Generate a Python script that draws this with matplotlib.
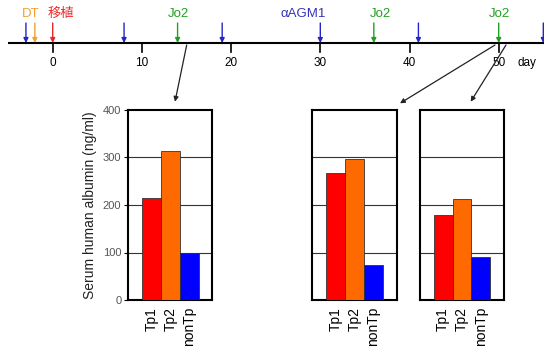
import matplotlib
matplotlib.use("Agg")
import matplotlib.pyplot as plt

plt.rcParams['font.family'] = ['Liberation Sans', 'Noto Sans CJK JP', 'DejaVu Sans']

# ---- data ----
groups = ["Tp1", "Tp2", "nonTp"]
panel1 = [214, 313, 100]
panel2 = [267, 296, 74]
panel3 = [180, 212, 91]
bar_colors = ["#FF0000", "#FF6A00", "#0000FF"]

yticks = [0, 100, 200, 300, 400]

timeline_ticks = [0, 10, 20, 30, 40, 50]
arrow_days = [-3, -2, 0, 8, 14, 19, 30, 36, 41, 50, 55]
arrow_cols = ["#2424C8", "#F0A030", "#E82828", "#2424C8", "#20A020", "#2424C8",
              "#2424C8", "#20A020", "#2424C8", "#20A020", "#2424C8"]
event_labels = ["DT", "移植", "Jo2", "αAGM1", "Jo2", "Jo2"]
event_label_days = [-2.5, 0.9, 14.1, 28.1, 36.7, 50.1]
event_label_cols = ["#F0A030", "#E82828", "#20A020", "#3333BB", "#20A020", "#20A020"]

W, H = 544, 351
fig = plt.figure(figsize=(W / 100, H / 100), dpi=100)

def px_rect(l, r, top, bottom):
    return [l / W, (H - bottom) / H, (r - l) / W, (bottom - top) / H]

panels = [
    (panel1, px_rect(128.3, 212.3, 110, 300), True),
    (panel2, px_rect(312.3, 396.7, 110, 300), False),
    (panel3, px_rect(420.0, 504.0, 110, 300), False),
]

for vals, rect, first in panels:
    ax = fig.add_axes(rect)
    x = list(range(len(groups)))
    ax.bar(x, vals, width=1.0, color=bar_colors, edgecolor="#333333", linewidth=0.6, zorder=3)
    ax.set_xlim(-1.23, 3.23)
    ax.set_ylim(0, 400)
    ax.set_yticks(yticks)
    for yv in yticks[1:-1]:
        ax.axhline(yv, color="#333333", linewidth=0.8, zorder=1)
    ax.set_xticks(x)
    ax.set_xticklabels(groups, rotation=90, fontsize=10)
    ax.tick_params(axis="x", length=0, pad=5)
    for s in ax.spines.values():
        s.set_linewidth(1.5)
        s.set_color("black")
    if first:
        ax.tick_params(axis="y", length=3, width=0.8, pad=2, labelsize=8, labelcolor="#555555")
        ax.set_ylabel("Serum human albumin (ng/ml)", fontsize=10, color="#222222")
        ax.yaxis.set_label_coords(-0.37, 0.5)
    else:
        ax.tick_params(axis="y", length=0, labelleft=False)

# ---- timeline overlay ----
x0px, ppd = 52.7, 8.92
def d2x(px):
    return (px - x0px) / ppd

ov = fig.add_axes([0, 0, 1, 1])
ov.set_xlim(d2x(0), d2x(W))
ov.set_ylim(H, 0)
ov.axis("off")
ov.patch.set_alpha(0)

line_y = 43
ov.plot([d2x(8), d2x(W)], [line_y, line_y], color="black", linewidth=1.5, solid_capstyle="butt")
for t in timeline_ticks:
    ov.plot([t, t], [line_y, 52], color="black", linewidth=1.2)
    ov.text(t, 63, str(t), ha="center", va="center", fontsize=8.5, color="black")
ov.text(d2x(527), 63, "day", ha="center", va="center", fontsize=8.5, color="black")

for d, c in zip(arrow_days, arrow_cols):
    ov.annotate("", xy=(d, line_y), xytext=(d, 23),
                arrowprops=dict(arrowstyle="-|>", color=c, lw=1.0, mutation_scale=7,
                                shrinkA=0, shrinkB=0))

for lab, d, c in zip(event_labels, event_label_days, event_label_cols):
    ov.text(d, 14, lab, ha="center", va="center", fontsize=9.5, color=c)

# connectors from timeline to panels
connectors = [((186.7, 45), (175.0, 101.7)),
              ((495.0, 45), (400.0, 103.3)),
              ((506.0, 45), (470.7, 101.7))]
for (sx, sy), (ex, ey) in connectors:
    ov.annotate("", xy=(d2x(ex), ey), xytext=(d2x(sx), sy),
                arrowprops=dict(arrowstyle="-|>", color="#222222", lw=0.9, mutation_scale=7,
                                shrinkA=0, shrinkB=0))

fig.savefig("out.png", dpi=100)
